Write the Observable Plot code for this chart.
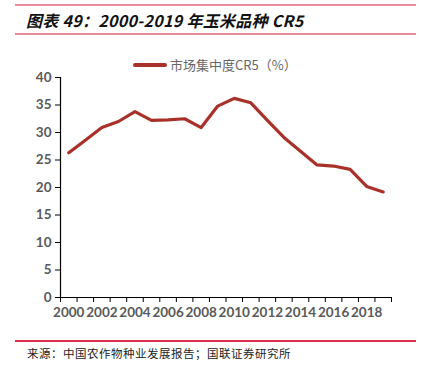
<!DOCTYPE html>
<html><head><meta charset="utf-8">
<script src="https://cdn.jsdelivr.net/npm/d3@7"></script>
<script src="https://cdn.jsdelivr.net/npm/@observablehq/plot@0.6"></script>
<style>
body{margin:0;background:#fff;}
#wrap{position:relative;width:425px;height:366px;overflow:hidden;font-family:"Noto Sans CJK SC",sans-serif;}
.hr{position:absolute;left:15px;width:401px;height:2px;}
#title{position:absolute;left:26px;top:8px;font-size:16px;font-weight:bold;font-style:italic;color:#111;white-space:nowrap;letter-spacing:0.3px;}
#legend{position:absolute;left:133px;top:55px;display:flex;align-items:center;font-size:13px;color:#666;white-space:nowrap;}
#legend .sw{width:34px;height:4px;background:#a8322a;margin-right:3px;border-radius:2px;}
#chart{position:absolute;left:0;top:40px;}
#caption{position:absolute;left:27px;top:345px;font-size:11.5px;color:#222;white-space:nowrap;letter-spacing:0.5px;}
</style></head>
<body><div id="wrap">
<div class="hr" style="top:4px;background:#e98b9d"></div>
<div id="title">图表 49：2000-2019 年玉米品种 CR5</div>
<div class="hr" style="top:33px;background:#e98b9d"></div>
<div id="chart"></div>
<div id="legend"><span class="sw"></span><span id="legtext"></span></div>
<div class="hr" style="top:340px;height:1.5px;background:#d9304c"></div>
<div id="caption">来源：中国农作物种业发展报告；国联证券研究所</div>
</div>
<script>
const years = [2000,2001,2002,2003,2004,2005,2006,2007,2008,2009,2010,2011,2012,2013,2014,2015,2016,2017,2018,2019];
const cr5 = [26.3,28.6,30.9,32.0,33.8,32.2,32.3,32.5,30.9,34.8,36.2,35.4,32.2,29.1,26.6,24.1,23.9,23.3,20.2,19.2];
const seriesName = "市场集中度CR5（%）";
const xLabels = [2000,2002,2004,2006,2008,2010,2012,2014,2016,2018];
const yTicks = [0,5,10,15,20,25,30,35,40];

document.getElementById("legtext").textContent = seriesName;
const data = years.map((y,i)=>({year:y, value:cr5[i]}));
const bounds = d3.range(years.length+1).map(i=>years[0]-0.5+i);

const chart = Plot.plot({
  width:425, height:290,
  marginLeft:60, marginRight:34, marginTop:37, marginBottom:33,
  style:{fontFamily:"Lato, sans-serif", fontSize:"13.5px", fontWeight:"bold", color:"#595959", background:"transparent"},
  x:{domain:[years[0]-0.5, years[years.length-1]+0.5]},
  y:{domain:[0,40]},
  marks:[
    Plot.axisY({ticks:yTicks, tickSize:5, tickPadding:4, tickFormat:d=>d, label:null, stroke:"#000", fill:"#595959"}),
    Plot.axisX({ticks:bounds, tickSize:5, tickFormat:()=>"", label:null, stroke:"#000"}),
    Plot.axisX({ticks:xLabels, tickSize:0, tickPadding:10, tickFormat:d=>String(d), label:null, fill:"#595959"}),
    Plot.ruleX([years[0]-0.5], {stroke:"#000", strokeWidth:1.2}),
    Plot.ruleY([0], {stroke:"#000", strokeWidth:1.2}),
    Plot.line(data, {x:"year", y:"value", stroke:"#a8322a", strokeWidth:3.2, strokeLinejoin:"round", strokeLinecap:"round"})
  ]
});
document.getElementById("chart").appendChild(chart);
</script>
</body></html>
